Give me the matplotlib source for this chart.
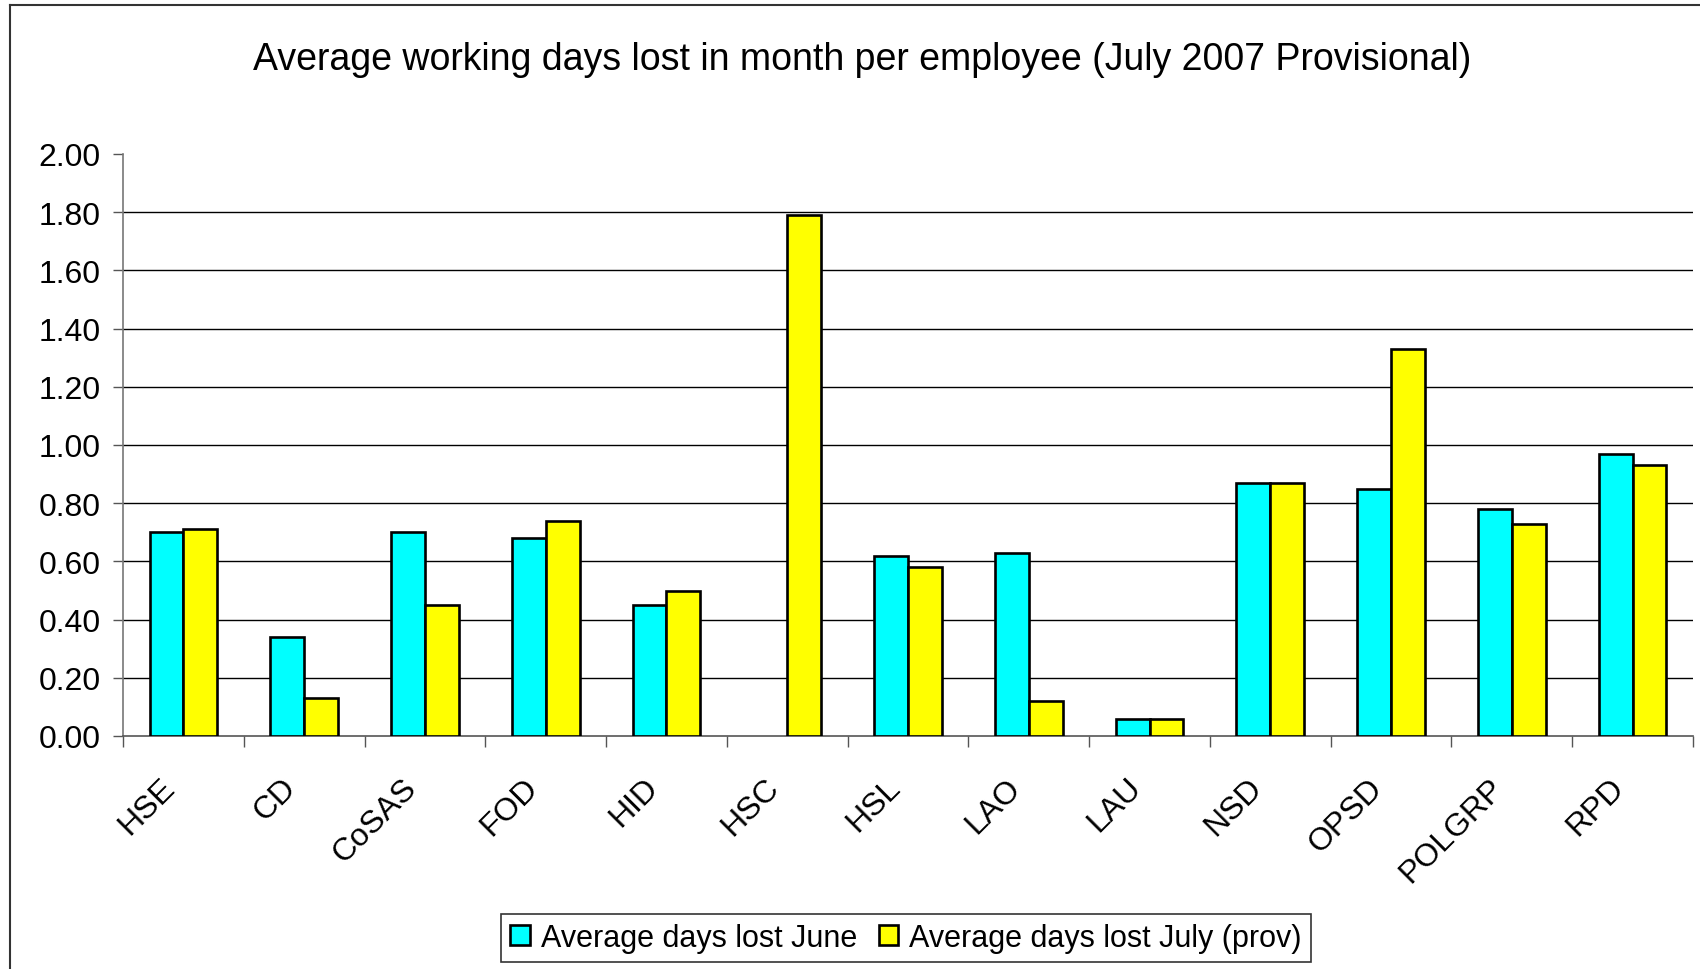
import numpy as np
import matplotlib
matplotlib.use("Agg")
import matplotlib.pyplot as plt
from matplotlib.lines import Line2D
from matplotlib.transforms import ScaledTranslation

plt.rcParams['font.family'] = ['Liberation Sans', 'DejaVu Sans']

# data
categories = ["HSE", "CD", "CoSAS", "FOD", "HID", "HSC", "HSL",
              "LAO", "LAU", "NSD", "OPSD", "POLGRP", "RPD"]
june = [0.70, 0.34, 0.70, 0.68, 0.45, np.nan, 0.62, 0.63, 0.06, 0.87, 0.85, 0.78, 0.97]
july = [0.71, 0.13, 0.45, 0.74, 0.50, 1.79, 0.58, 0.12, 0.06, 0.87, 1.33, 0.73, 0.93]
y_ticks = [0.0, 0.2, 0.4, 0.6, 0.8, 1.0, 1.2, 1.4, 1.6, 1.8, 2.0]

title = "Average working days lost in month per employee (July 2007 Provisional)"
label_june = "Average days lost June"
label_july = "Average days lost July (prov)"

fig = plt.figure(figsize=(17, 9.7), dpi=100)
ax = fig.add_axes([123/1700, 1-737/970, (1693-123)/1700, (737-155)/970])

x = np.arange(len(categories))
w = 0.28
ax.bar(x - w/2, june, w, color="#00FFFF", edgecolor="black", linewidth=1.9,
       label=label_june, zorder=3)
ax.bar(x + w/2, july, w, color="#FFFF00", edgecolor="black", linewidth=1.9,
       label=label_july, zorder=3)

# horizontal gridlines (none on top at 2.00)
for yv in y_ticks[1:-1]:
    ax.axhline(yv, color="black", linewidth=1.0, zorder=1)

ax.set_xlim(-0.5, len(categories) - 0.5)
ax.set_ylim(0, 2.0)
ax.set_yticks(y_ticks)
ax.set_yticklabels(["%.2f" % v for v in y_ticks], fontsize=23)
ax.tick_params(axis="y", length=7, width=1, color="#555555", pad=9)

# ticks at category borders, labels at centres
ax.set_xticks(np.arange(len(categories) + 1) - 0.5)
ax.set_xticklabels([])
ax.tick_params(axis="x", which="major", length=8, width=1, color="#555555")
ax.set_xticks(x, minor=True)
ax.set_xticklabels(categories, minor=True, rotation=45, ha="right", va="top",
                   fontsize=23)
ax.tick_params(axis="x", which="minor", length=0, pad=26)
for lab in ax.get_xticklabels(minor=True):
    lab.set_transform(lab.get_transform() + ScaledTranslation(-0.02, 0, fig.dpi_scale_trans))

for s in ["top", "right"]:
    ax.spines[s].set_visible(False)
ax.spines["left"].set_color("#777777")
ax.spines["bottom"].set_color("#555555")
ax.spines["left"].set_linewidth(1.2)
ax.spines["bottom"].set_linewidth(1.2)

fig.text(862/1700, 1-60/970, title, ha="center", va="center", fontsize=27)

leg = fig.legend(loc="center", bbox_to_anchor=(906/1700, 1-939/970), ncol=2,
                 fontsize=22, frameon=True, fancybox=False, edgecolor="black",
                 handlelength=0.65, handleheight=0.65, handletextpad=0.35,
                 columnspacing=0.7, borderpad=0.3)
leg.get_frame().set_linewidth(1.2)

# chart area border (right and bottom edges cropped off)
fig.add_artist(Line2D([10/1700, 10/1700], [0, 1-6/970], transform=fig.transFigure,
                      color="#333333", linewidth=1.5))
fig.add_artist(Line2D([10/1700, 1], [1-6/970, 1-6/970], transform=fig.transFigure,
                      color="#333333", linewidth=1.5))

fig.savefig("out.png", dpi=100)
